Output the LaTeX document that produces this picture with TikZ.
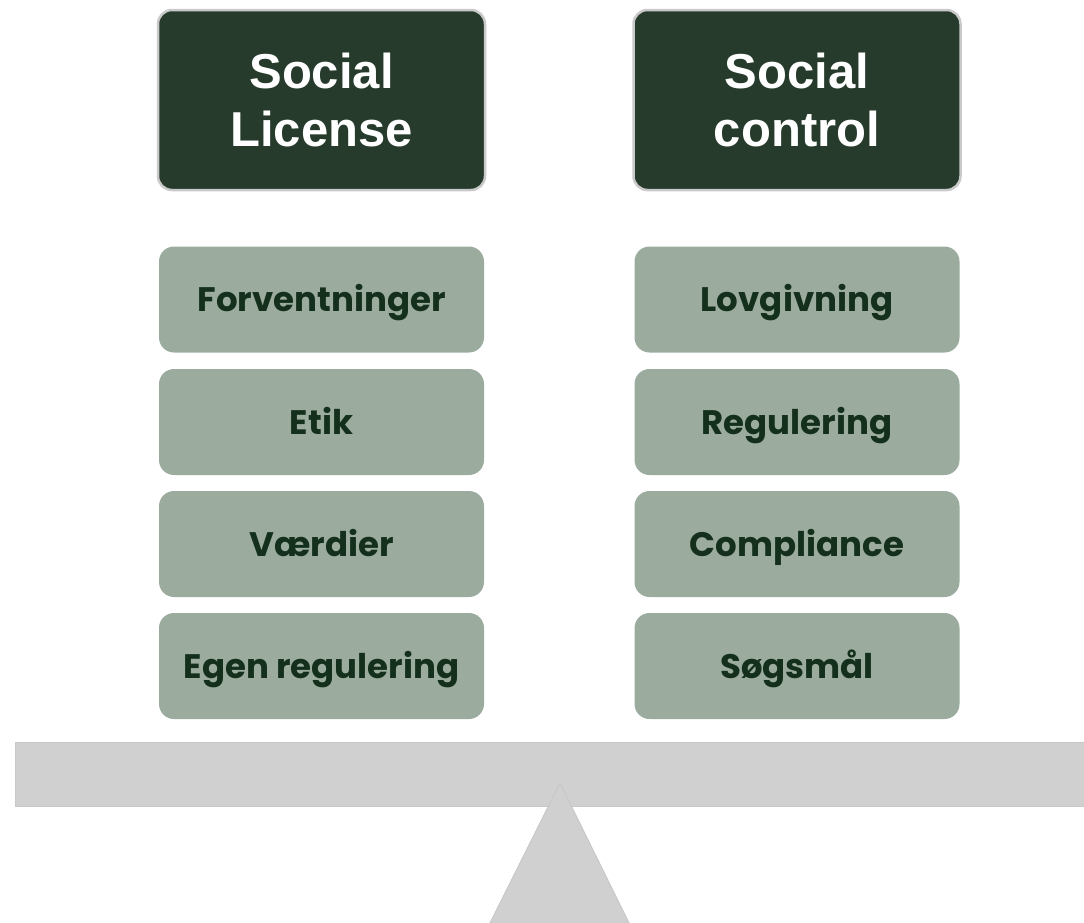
\documentclass[tikz,border=0pt]{standalone}
\usepackage{fontspec}
\setmainfont{Liberation Sans}
\newfontfamily\boxfont{Poppins}
\definecolor{headfill}{HTML}{263B2C}
\definecolor{headrim}{HTML}{C9C9C9}
\definecolor{itemfill}{HTML}{9BAC9F}
\definecolor{itemtext}{HTML}{14301C}
\definecolor{beamfill}{HTML}{D0D0D0}
\definecolor{beamrim}{HTML}{C8C8C8}
\begin{document}
\begin{tikzpicture}[x=1pt,y=-1pt,
  headbox/.style={draw=headrim,line width=2.5pt,fill=headfill,rounded corners=14pt,
    minimum width=327pt,minimum height=180pt,inner sep=0pt,
    text=white,align=center,font=\fontsize{49}{58}\selectfont\bfseries},
  itembox/.style={fill=itemfill,rounded corners=15pt,
    minimum width=325pt,minimum height=106pt,inner sep=0pt,
    text=itemtext,font=\boxfont\fontsize{34}{40}\selectfont\bfseries},
  itemlabel/.style={text=itemtext,font=\boxfont\fontsize{34}{40}\selectfont\bfseries,inner sep=0pt},
  beam/.style={fill=beamfill,draw=beamrim,line width=1pt}]
\useasboundingbox (0,0) rectangle (1084,922);
\node[headbox] (h1) at (321.5,100) {Social\\License};
\node[headbox] (h2) at (797,100) {Social\\control};
\node[itembox] (l1) at (321.5,299.5) {};
\node[itembox] (l2) at (321.5,422) {};
\node[itembox] (l3) at (321.5,544) {};
\node[itembox] (l4) at (321.5,666) {};
\node[itembox] (r1) at (797,299.5) {};
\node[itembox] (r2) at (797,422) {};
\node[itembox] (r3) at (797,544) {};
\node[itembox] (r4) at (797,666) {};
\foreach \n/\t in {l1/Forventninger,l2/Etik,l3/Værdier,l4/Egen regulering,
                   r1/Lovgivning,r2/Regulering,r3/Compliance,r4/Søgsmål}
  \node[itemlabel,anchor=base] (\n t) at ([yshift=-12pt]\n.center) {\t};
\draw[beam] (15,742) rectangle (1090,806);
\draw[beam] (560,783) -- (630,925) -- (489,925) -- cycle;
\end{tikzpicture}
\end{document}
